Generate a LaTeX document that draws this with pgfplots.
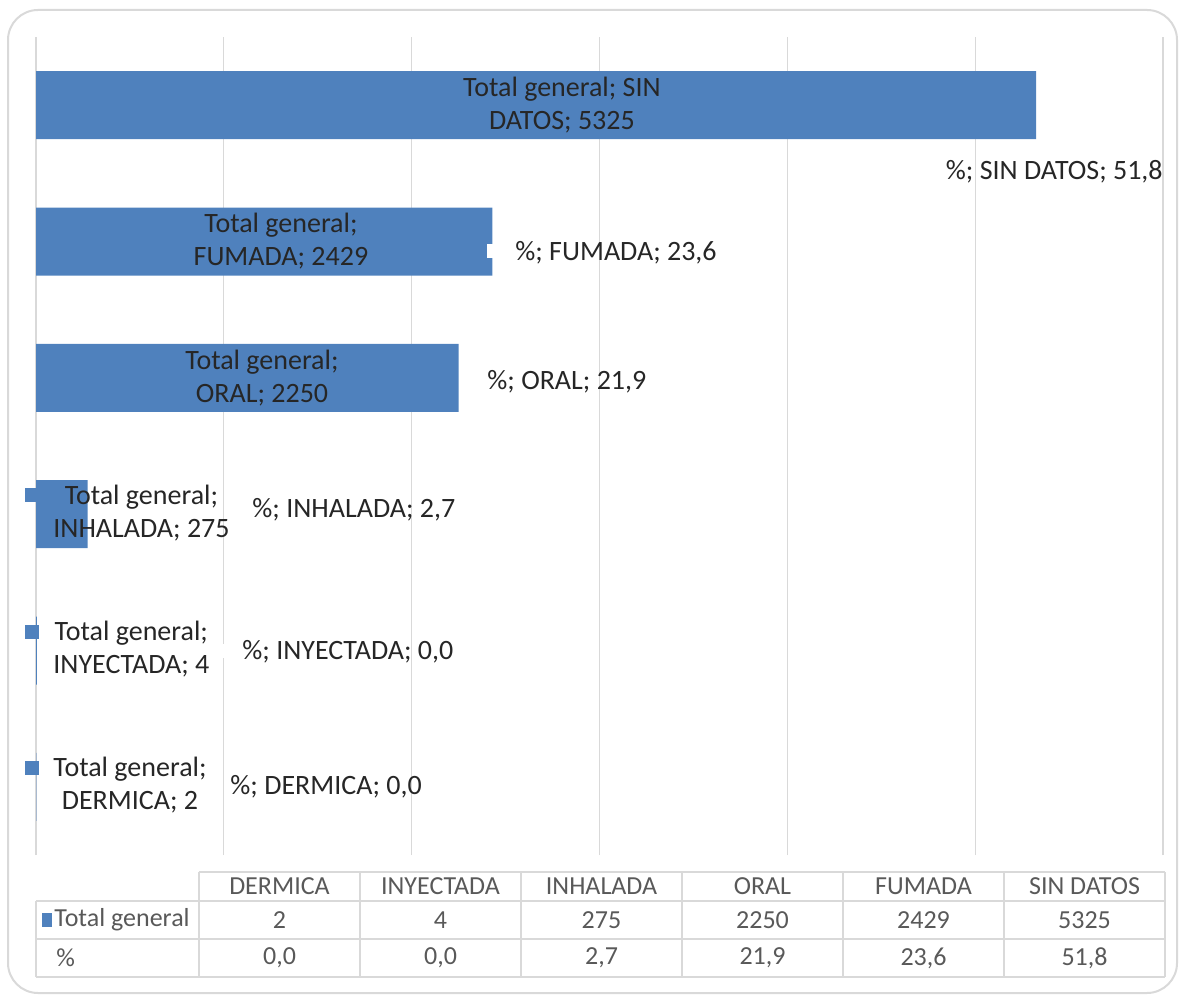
\documentclass[border=0pt]{standalone}
\usepackage{fontspec}
\setmainfont{Carlito}
\usepackage{pgfplots}
\usepackage{pgfplotstable}
\pgfplotsset{compat=1.18}

\definecolor{barblue}{HTML}{4F81BD}
\definecolor{gridgray}{HTML}{D9D9D9}
\definecolor{labeltext}{HTML}{262626}
\definecolor{tabletext}{HTML}{595959}

\pgfplotstableread[col sep=comma]{
idx,cat,total,pct
0,DERMICA,2,0.0
1,INYECTADA,4,0.0
2,INHALADA,275,2.7
3,ORAL,2250,21.9
4,FUMADA,2429,23.6
5,SIN DATOS,5325,51.8
}\datatable

\newcommand{\lblfont}{\fontsize{14}{16.5}\selectfont}
\newcommand{\tblfont}{\fontsize{13}{15}\selectfont}
% legend keys that Excel puts in front of the data labels
\newcommand{\keybox}[1]{\raisebox{1pt}{\textcolor{#1}{\rule{7pt}{7pt}}}\hspace{7pt}}
\newcommand{\keylabel}[2]{\keybox{barblue}\begin{tabular}[t]{@{}c@{}}#1\\#2\end{tabular}}

\begin{document}
\begin{tikzpicture}
\tikzset{
  lbl/.style={align=center, font=\lblfont, text=labeltext, inner sep=0pt},
  pct/.style={anchor=west, font=\lblfont, text=labeltext, inner sep=0pt},
  tbl/.style={font=\tblfont, text=tabletext, inner sep=0pt},
}
% frame
\draw[gridgray, line width=1pt, rounded corners=15pt] (4pt,1.5pt) rectangle (588.5pt,493pt);

\begin{axis}[
  at={(18pt,70.5pt)}, anchor=south west,
  scale only axis, width=563.5pt, height=409pt,
  xmin=0, xmax=6000, ymin=-0.5, ymax=5.5,
  xtick={0,1000,...,6000}, xticklabels={},
  ytick=\empty,
  xmajorgrids, major grid style={gridgray, line width=0.6pt},
  axis line style={draw=none}, tick style={draw=none},
  clip=false,
]
\addplot[xbar, bar width=34pt, fill=barblue, draw=none] table[x=total, y=idx] {\datatable};

% Total general labels
\node[lbl] at (axis cs:2800,5) {Total general; SIN\\DATOS; 5325};
\node[lbl] at (axis cs:1304,4) {Total general;\\FUMADA; 2429};
\node[lbl] at (axis cs:1203,3) {Total general;\\ORAL; 2250};
\node[lbl, anchor=west] at (axis cs:-58.6,2) {\keylabel{Total general;}{INHALADA; 275}};
\node[lbl, anchor=west] at (axis cs:-58.6,1) {\keylabel{Total general;}{INYECTADA; 4}};
\node[lbl, anchor=west] at (axis cs:-58.6,0) {\keylabel{Total general;}{DERMICA; 2}};

% % labels (the % series has no fill, its key is white)
\node[pct, anchor=east] at (axis cs:6000,4.51) {\keybox{white}\%; SIN DATOS; 51,8};
\node[pct] at (axis cs:2401,3.92) {\keybox{white}\%; FUMADA; 23,6};
\node[pct] at (axis cs:2252,2.97) {\keybox{white}\%; ORAL; 21,9};
\node[pct] at (axis cs:1001,2.03) {\keybox{white}\%; INHALADA; 2,7};
\node[pct] at (axis cs:948,0.99) {\keybox{white}\%; INYECTADA; 0,0};
\node[pct] at (axis cs:884,0.0) {\keybox{white}\%; DERMICA; 0,0};
\end{axis}

% data table
\begin{scope}[gridgray, line width=0.8pt]
\draw (99.5pt,62pt) -- (582.5pt,62pt);
\foreach \yy in {47.5,28.5,9.5} \draw (18pt,\yy pt) -- (582.5pt,\yy pt);
\draw (18pt,9.5pt) -- (18pt,47.5pt);
\foreach \k in {0,...,6} \draw ({99.5pt+80.5pt*\k},9.5pt) -- ({99.5pt+80.5pt*\k},62pt);
\end{scope}
\node[tbl, anchor=west] at (27pt,38pt) {\llap{\textcolor{barblue}{\rule{5pt}{7pt}}\hspace{1pt}}Total general};
\node[tbl, anchor=west] at (28pt,19pt) {\%};
\foreach \i in {0,...,5}{
  \pgfplotstablegetelem{\i}{cat}\of\datatable
  \node[tbl] at ({139.75pt+80.5pt*\i},54.75pt) {\pgfplotsretval};
  \pgfplotstablegetelem{\i}{total}\of\datatable
  \node[tbl] at ({139.75pt+80.5pt*\i},38pt) {\pgfplotsretval};
  \pgfplotstablegetelem{\i}{pct}\of\datatable
  \node[tbl] at ({139.75pt+80.5pt*\i},19pt) {\pgfmathprintnumber[fixed,fixed zerofill,precision=1,use comma,assume math mode=true]{\pgfplotsretval}};
}
\pgfresetboundingbox
\path (0,0) rectangle (591pt,498pt);
\end{tikzpicture}
\end{document}
